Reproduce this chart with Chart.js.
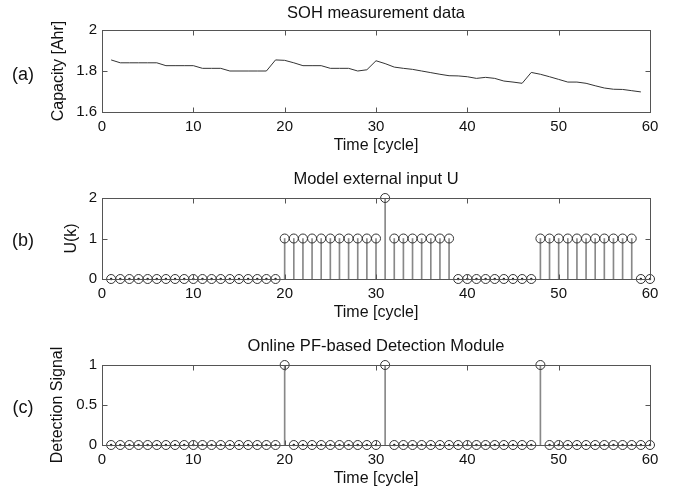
<!DOCTYPE html>
<html><head><meta charset="utf-8">
<script src="https://cdn.jsdelivr.net/npm/chart.js@4/dist/chart.umd.min.js"></script>
<style>
html,body{margin:0;padding:0;background:#fff;}
#wrap{position:relative;width:673px;height:493px;overflow:hidden;font-family:"Liberation Sans",Arial,sans-serif;color:#111;}
canvas{position:absolute;left:0;top:0;}
.t{position:absolute;transform:translate(-50%,-50%);white-space:nowrap;font-size:16.5px;line-height:18px;}
.p{position:absolute;transform:translate(-50%,-50%);white-space:nowrap;font-size:18px;line-height:20px;}
</style></head>
<body><div id="wrap">
<canvas id="ca" width="673" height="493"></canvas>
<canvas id="cb" width="673" height="493"></canvas>
<canvas id="cc" width="673" height="493"></canvas>
<div class="t" style="left:376px;top:12px">SOH measurement data</div>
<div class="t" style="left:376px;top:178px">Model external input U</div>
<div class="t" style="left:376px;top:345px">Online PF-based Detection Module</div>
<div class="p" style="left:23px;top:74px">(a)</div>
<div class="p" style="left:23px;top:240px">(b)</div>
<div class="p" style="left:23px;top:407px">(c)</div>
</div>
<script>
const cycles = [1,2,3,4,5,6,7,8,9,10,11,12,13,14,15,16,17,18,19,20,21,22,23,24,25,26,27,28,29,30,31,32,33,34,35,36,37,38,39,40,41,42,43,44,45,46,47,48,49,50,51,52,53,54,55,56,57,58,59,60];
const capacity = [1.854,1.840,1.840,1.840,1.840,1.840,1.826,1.826,1.826,1.826,1.813,1.813,1.813,1.800,1.800,1.800,1.800,1.800,1.854,1.852,1.840,1.826,1.826,1.826,1.813,1.813,1.813,1.800,1.806,1.850,1.836,1.819,1.813,1.808,1.800,1.792,1.784,1.777,1.776,1.772,1.764,1.769,1.764,1.751,1.746,1.740,1.793,1.784,1.772,1.759,1.746,1.746,1.740,1.728,1.717,1.711,1.710,1.704,1.698];
const inputU = [0,0,0,0,0,0,0,0,0,0,0,0,0,0,0,0,0,0,0,1,1,1,1,1,1,1,1,1,1,1,2,1,1,1,1,1,1,1,0,0,0,0,0,0,0,0,0,1,1,1,1,1,1,1,1,1,1,1,0,0];
const detection = [0,0,0,0,0,0,0,0,0,0,0,0,0,0,0,0,0,0,0,1,0,0,0,0,0,0,0,0,0,0,1,0,0,0,0,0,0,0,0,0,0,0,0,0,0,0,0,1,0,0,0,0,0,0,0,0,0,0,0,0];
const xTicks = [0,10,20,30,40,50,60];
const yTicksA = [1.6,1.8,2];
const yTicksB = [0,1,2];
const yTicksC = [0,0.5,1];

const AX = '#555';
const FONT = {family:"'Liberation Sans', Arial, sans-serif", size:15};
const TFONT = {family:"'Liberation Sans', Arial, sans-serif", size:16};

const boxPlugin = {
  id:'mbox',
  afterDraw(chart){
    const {ctx, chartArea:a, scales:{x,y}} = chart;
    ctx.save();
    ctx.strokeStyle = AX; ctx.lineWidth = 1;
    const L=Math.round(a.left)+0.5, R=Math.round(a.right)+0.5, T=Math.round(a.top)+0.5, B=Math.round(a.bottom)+0.5;
    ctx.strokeRect(L, T, R-L, B-T);
    ctx.beginPath();
    x.ticks.forEach(t=>{ const px=Math.round(x.getPixelForValue(t.value))+0.5; ctx.moveTo(px,B); ctx.lineTo(px,B-5); ctx.moveTo(px,T); ctx.lineTo(px,T+5); });
    y.ticks.forEach(t=>{ const py=Math.round(y.getPixelForValue(t.value))+0.5; ctx.moveTo(L,py); ctx.lineTo(L+5,py); ctx.moveTo(R,py); ctx.lineTo(R-5,py); });
    ctx.stroke();
    ctx.restore();
  }
};

function makeChart(id, datasets, yTicks, yTitle, yTitlePad, top, bottom){
  const H = 45;
  return new Chart(document.getElementById(id), {
    type:'scatter',
    data:{datasets},
    plugins:[boxPlugin],
    options:{
      responsive:false, animation:false, devicePixelRatio:1,
      layout:{padding:{left:0, right:23, top:top, bottom:493-bottom-H}},
      plugins:{legend:{display:false}, tooltip:{enabled:false}},
      scales:{
        x:{type:'linear', min:0, max:60, offset:false,
           afterBuildTicks(s){ s.ticks = xTicks.map(v=>({value:v})); },
           afterFit(s){ s.height = H; s.paddingLeft=0; s.paddingRight=0; },
           grid:{display:false, drawTicks:false}, border:{display:false},
           ticks:{font:FONT, color:'#111', padding:6, maxRotation:0, autoSkip:false, callback:v=>String(v)},
           title:{display:true, text:'Time [cycle]', font:TFONT, color:'#111', padding:{top:0,bottom:2}}},
        y:{type:'linear', min:yTicks[0], max:yTicks[yTicks.length-1],
           afterBuildTicks(s){ s.ticks = yTicks.map(v=>({value:v})); },
           afterFit(s){ s.width = 102; s.paddingTop=0; s.paddingBottom=0; },
           grid:{display:false, drawTicks:false}, border:{display:false},
           ticks:{font:FONT, color:'#111', padding:5, autoSkip:false, callback:v=>String(v)},
           title:{display:true, text:yTitle, font:TFONT, color:'#111', padding:{top:yTitlePad,bottom:0}}}
      }
    }
  });
}

function stemSets(values){
  const pts = cycles.map((c,i)=>({x:c, y:values[i]}));
  const zeros = pts.filter(p=>p.y===0);
  return [
    {type:'scatter', data:zeros, pointRadius:1.2, pointBackgroundColor:'#222', pointBorderWidth:0, showLine:false, clip:false},
    {type:'scatter', data:pts, pointRadius:4.5, pointStyle:'circle', pointBorderColor:'#333', pointBackgroundColor:'rgba(0,0,0,0)', pointBorderWidth:1, showLine:false, clip:false},
    {type:'bar', data:pts, barThickness:1, backgroundColor:'#888', borderWidth:0, grouped:false}
  ];
}

makeChart('ca', [
  {type:'line', data:capacity.map((v,i)=>({x:cycles[i], y:v})), borderColor:'#333', borderWidth:1, pointRadius:0, tension:0, fill:false}
], yTicksA, 'Capacity [Ahr]', 49, 30, 112);

makeChart('cb', stemSets(inputU), yTicksB, 'U(k)', 62, 198, 279);
makeChart('cc', stemSets(detection), yTicksC, 'Detection Signal', 48, 365, 445);
</script>
</body></html>
